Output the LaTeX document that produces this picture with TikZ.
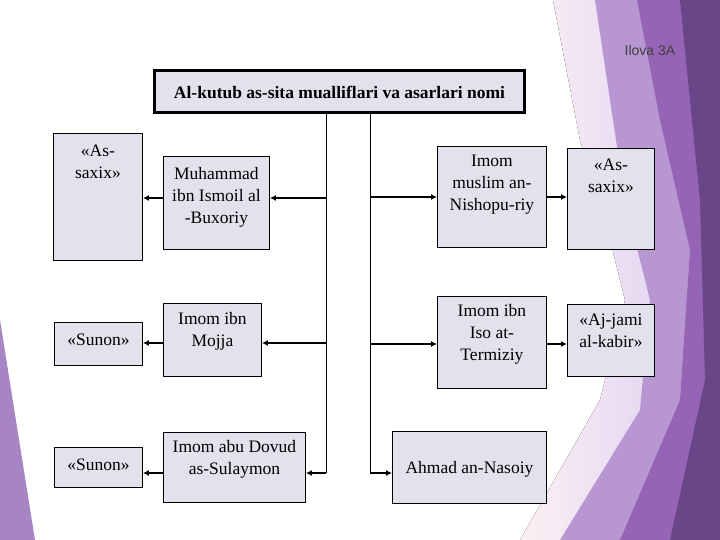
\documentclass[tikz,border=0pt]{standalone}
\usepackage{fontspec}
\setmainfont{Liberation Serif}
\newfontfamily\arialf{Liberation Sans}
\usetikzlibrary{arrows.meta}
\definecolor{boxf}{HTML}{E2E2EC}
\begin{document}
\begin{tikzpicture}[x=1pt,y=-1pt,
  bx/.style={draw=black,line width=0.9pt,fill=boxf,inner sep=0pt,anchor=north west},
  tx/.style={align=center,font=\fontsize{17.5}{22}\selectfont,inner sep=0pt},
  ar/.style={line width=1.5pt,-{Latex[length=6pt,width=6pt]}},
  ln/.style={line width=0.9pt}]
\useasboundingbox (0,0) rectangle (720,540);
\fill[white] (0,0) rectangle (720,540);
% decoration
\fill[left color=white!80!purple!30,right color=purple!35!blue!20] (553,0)--(720,0)--(720,540)--(520,540)--(600,400)--(625,300)--(605,220)--(580,140)--cycle;
\fill[color={rgb,255:red,184;green,150;blue,210}] (595,0)--(720,0)--(720,540)--(560,540)--(640,410)--(650,300)--(625,200)--cycle;
\fill[color={rgb,255:red,150;green,100;blue,180}] (637,0)--(720,0)--(720,540)--(620,540)--(680,400)--(690,250)--(660,120)--cycle;
\fill[color={rgb,255:red,105;green,70;blue,135}] (680,0)--(720,0)--(720,540)--(670,540)--(705,380)--(700,200)--cycle;
\fill[color={rgb,255:red,167;green,132;blue,196}] (0,320)--(35,540)--(0,540)--cycle;
\node[font=\arialf\fontsize{14}{16}\selectfont,text=black!75] (ilova) at (650,50) {Ilova 3A};
% title
\node[draw=black,line width=3pt,fill=boxf,minimum width=370pt,minimum height=42pt,font=\bfseries\fontsize{17.5}{20}\selectfont] (t) at (339.5,92) {Al-kutub as-sita mualliflari va asarlari nomi};
% boxes
\node[bx,minimum width=89pt,minimum height=127pt] (a1) at (53,133) {};
\node[bx,minimum width=88pt,minimum height=43pt] (s1) at (54,322) {};
\node[bx,minimum width=88pt,minimum height=40pt] (s2) at (54,447) {};
\node[bx,minimum width=106pt,minimum height=93pt] (m1) at (163,156) {};
\node[bx,minimum width=98pt,minimum height=73pt] (m2) at (163,303) {};
\node[bx,minimum width=142pt,minimum height=70pt] (m3) at (163,432) {};
\node[bx,minimum width=109pt,minimum height=101pt] (r1) at (437,146) {};
\node[bx,minimum width=109pt,minimum height=92pt] (r2) at (437,296) {};
\node[bx,minimum width=154pt,minimum height=72pt] (r3) at (392,431) {};
\node[bx,minimum width=87pt,minimum height=101pt] (f1) at (567,148) {};
\node[bx,minimum width=87pt,minimum height=72pt] (f2) at (567,304) {};
% texts
\node[tx] (ta1) at (a1.center|-0,162) {«As-\\saxix»};
\node[tx] (ts1) at (s1.center|-0,340) {«Sunon»};
\node[tx] (ts2) at (s2.center|-0,465) {«Sunon»};
\node[tx] (tm1) at (m1.center|-0,197) {Muhammad\\ibn Ismoil al\\-Buxoriy};
\node[tx] (tm2) at (m2.center|-0,331) {Imom ibn\\Mojja};
\node[tx] (tm3) at (m3.center|-0,459) {Imom abu Dovud\\as-Sulaymon};
\node[tx] (tr1) at (r1.center|-0,185) {Imom\\muslim an-\\Nishopu-riy};
\node[tx] (tr2) at (r2.center|-0,334) {Imom ibn\\Iso at-\\Termiziy};
\node[tx] (tr3) at (r3.center|-0,469) {Ahmad an-Nasoiy};
\node[tx] (tf1) at (f1.center|-0,176) {«As-\\saxix»};
\node[tx] (tf2) at (f2.center|-0,331) {«Aj-jami\\al-kabir»};
% trunks
\coordinate (L0) at (326,114);
\coordinate (L1) at (326,198);
\coordinate (L2) at (326,343);
\coordinate (L3) at (326,473);
\coordinate (R0) at (370,114);
\coordinate (R1) at (370,197);
\coordinate (R2) at (370,344);
\coordinate (R3) at (370,473);
\draw[ln] (L0)--(L3);
\draw[ln] (R0)--(R3);
\draw[ar] (L1)--(L1-|m1.east);
\draw[ar] (L2)--(L2-|m2.east);
\draw[ar] (L3)--(L3-|m3.east);
\draw[ar] (R1)--(R1-|r1.west);
\draw[ar] (R2)--(R2-|r2.west);
\draw[ar] (R3)--(R3-|r3.west);
\draw[ar] (m1.west|-L1)--(a1.east|-L1);
\draw[ar] (m2.west|-L2)--(s1.east|-L2);
\draw[ar] (m3.west|-L3)--(s2.east|-L3);
\draw[ar] (r1.east|-R1)--(f1.west|-R1);
\draw[ar] (r2.east|-R2)--(f2.west|-R2);
\end{tikzpicture}
\end{document}
